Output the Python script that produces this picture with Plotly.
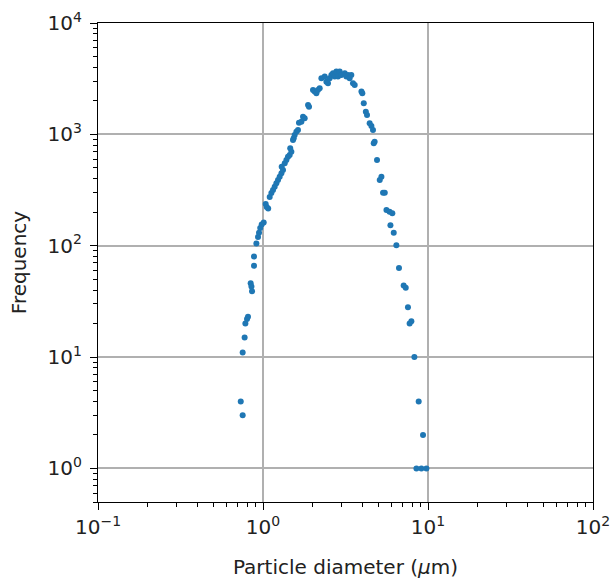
import plotly.graph_objects as go

diameter = [
    0.733, 0.753, 0.753, 0.774, 0.782, 0.80, 0.811, 0.842, 0.851, 0.858, 0.882, 0.882,
    0.912, 0.933, 0.946, 0.962, 0.982, 1.01, 1.038, 1.053, 1.075, 1.098, 1.124, 1.15,
    1.177, 1.205, 1.233, 1.262, 1.293, 1.322, 1.298, 1.354, 1.386, 1.417, 1.451, 1.486,
    1.462, 1.52, 1.535, 1.556, 1.593, 1.629, 1.652, 1.709, 1.748, 1.789, 1.875, 1.901,
    2.009, 2.056, 2.107, 2.153, 2.206, 2.259, 2.366, 2.422, 2.476, 2.536, 2.597, 2.655,
    2.719, 2.784, 2.848, 2.916, 2.985, 3.13, 3.20, 3.275, 3.35, 3.43, 3.51, 3.596,
    3.95, 4.0, 4.08, 4.2, 4.27, 4.43, 4.54, 4.64, 4.69, 4.75, 4.91, 5.22, 5.10, 5.34,
    5.47, 5.6, 5.85, 6.08, 5.92, 6.2, 6.43, 6.67, 7.12, 7.33, 7.56, 7.93, 7.74, 8.27,
    8.78, 9.33, 8.51, 9.12, 9.78,
]
frequency = [
    4, 3, 11, 15, 20, 22, 23, 46, 43, 39, 66, 80,
    105, 120, 131, 144, 155, 162, 237, 223, 216, 274, 297, 317,
    339, 364, 389, 417, 447, 479, 513, 550, 589, 631, 653, 699,
    750, 891, 922, 988, 1058, 1096, 1274, 1300, 1442, 1395, 1837, 1774,
    2506, 2420, 2340, 2506, 2595, 3190, 3300, 2975, 2877, 3190, 3420, 3540,
    3300, 3660, 3300, 3660, 3420, 3540, 3300, 3420, 3190, 3420, 2877, 2780,
    2420, 2340, 1902, 1600, 1494, 1258, 1190, 1095, 832, 860, 589, 417, 389, 299,
    299, 209, 202, 196, 153, 131, 101, 63, 44, 42, 28, 21, 20, 10,
    4, 2, 1, 1, 1,
]

x_tickvals = [0.1, 1, 10, 100]
x_ticktext = ["10<sup>−1</sup>", "10<sup>0</sup>", "10<sup>1</sup>", "10<sup>2</sup>"]
y_tickvals = [1, 10, 100, 1000, 10000]
y_ticktext = ["10<sup>0</sup>", "10<sup>1</sup>", "10<sup>2</sup>", "10<sup>3</sup>", "10<sup>4</sup>"]

fig = go.Figure()
fig.add_trace(go.Scatter(
    x=diameter, y=frequency, mode="markers",
    marker=dict(color="#1f77b4", size=6, line=dict(width=0)),
    showlegend=False,
))

axis_common = dict(
    type="log",
    automargin=False,
    showline=True, linecolor="black", linewidth=1.3, mirror=True,
    ticks="outside", ticklen=7, tickwidth=1.3, tickcolor="black",
    showgrid=True, gridcolor="#b0b0b0", gridwidth=1.5,
    zeroline=False,
    ticklabeloverflow="allow",
    tickfont=dict(family="DejaVu Sans", size=20, color="#222"),
    minor=dict(ticks="outside", ticklen=4, tickwidth=1, tickcolor="black",
               dtick="D1", showgrid=False),
)

fig.update_layout(
    width=610, height=583,
    margin=dict(l=98, r=17, t=23, b=81),
    paper_bgcolor="white", plot_bgcolor="white",
    font=dict(family="DejaVu Sans", size=20, color="#222"),
    xaxis=dict(
        **axis_common,
        range=[-1, 2],
        tickvals=x_tickvals, ticktext=x_ticktext,
        title=dict(text="Particle diameter (<i>μ</i>m)", font=dict(size=20), standoff=21),
    ),
    yaxis=dict(
        **axis_common,
        range=[-0.301, 4],
        tickvals=y_tickvals, ticktext=y_ticktext,
        ticklabelstandoff=4,
        title=dict(text="Frequency", font=dict(size=20), standoff=15),
    ),
)

fig.write_html("out.html")
